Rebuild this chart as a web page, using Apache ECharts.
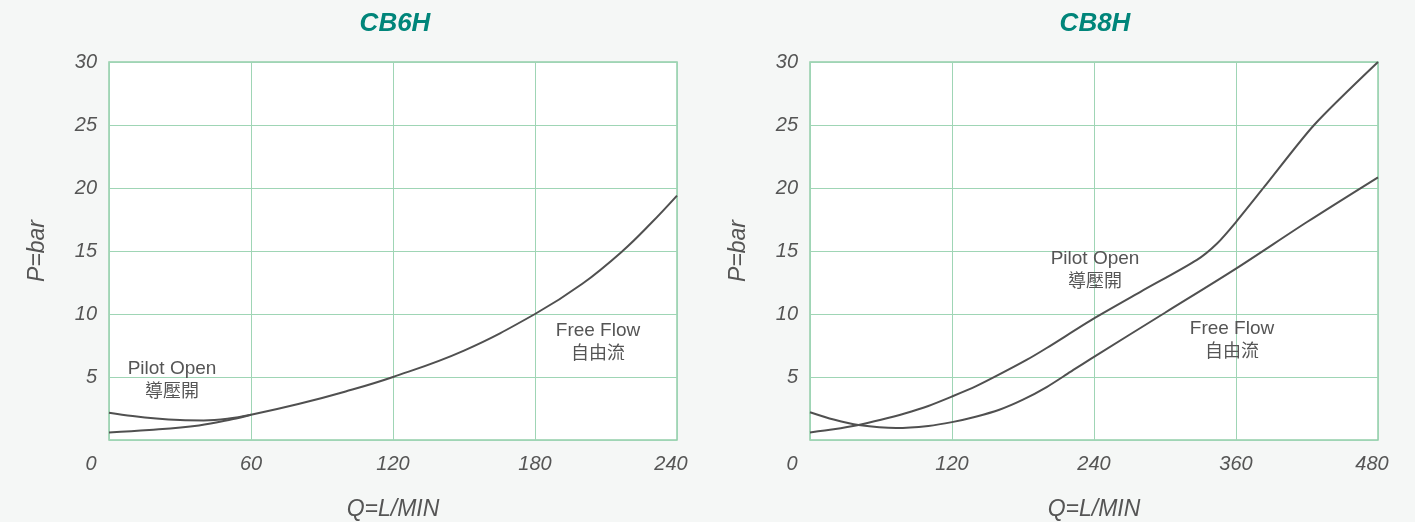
<!DOCTYPE html>
<html>
<head>
<meta charset="utf-8">
<script src="https://cdn.jsdelivr.net/npm/echarts@6/dist/echarts.min.js"></script>
<style>
html,body{margin:0;padding:0;background:#f5f7f6;}
#c{width:1415px;height:522px;}
</style>
</head>
<body>
<div id="c"></div>
<script>
// ---- data ----
const titles = ['CB6H', 'CB8H'];
const xTicksLeft = [0, 60, 120, 180, 240];
const xTicksRight = [0, 120, 240, 360, 480];
const yTicks = [0, 5, 10, 15, 20, 25, 30];

// CB6H: Q (L/min) vs P (bar)
const cb6hPilotQ = [0, 10, 20, 30, 40, 50, 60, 80, 100, 120, 150, 180, 200, 217, 229, 240];
const cb6hPilotP = [2.17, 1.9, 1.7, 1.58, 1.55, 1.68, 2.0, 2.85, 3.85, 5.0, 7.1, 10.0, 12.4, 15.0, 17.2, 19.4];
const cb6hFreeQ = [0, 17, 38, 52, 60];
const cb6hFreeP = [0.6, 0.79, 1.16, 1.64, 2.0];

// CB8H
const cb8hAQ = [0, 20, 41, 73, 100, 120, 140, 160, 180, 200, 220, 240, 300, 360, 420, 480];
const cb8hAP = [2.2, 1.62, 1.19, 0.95, 1.12, 1.42, 1.85, 2.4, 3.2, 4.2, 5.4, 6.6, 10.1, 13.6, 17.3, 20.85];
const cb8hBQ = [0, 20, 41, 60, 80, 100, 120, 140, 160, 183, 200, 240, 280, 327, 344, 360, 384, 426, 480];
const cb8hBP = [0.6, 0.85, 1.19, 1.6, 2.1, 2.7, 3.45, 4.25, 5.2, 6.35, 7.3, 9.65, 11.8, 14.3, 15.6, 17.3, 20.1, 25.0, 30.0];

const labelPilot = ['Pilot Open', '導壓開'];
const labelFree = ['Free Flow', '自由流'];

const pairs = (xs, ys) => xs.map((x, i) => [x, ys[i]]);

const GRID_C = '#9fd5b5';
const BORDER_C = '#93cea9';
const TXT_C = '#555';
const TEAL = '#00857a';
const LBL = {fontFamily: 'Liberation Sans', fontStyle: 'italic', fontSize: 20, color: TXT_C};

function xAxis(idx, ticks) {
  const max = ticks[ticks.length - 1];
  return {
    type: 'value', gridIndex: idx, min: ticks[0], max: max, interval: ticks[1] - ticks[0],
    name: 'Q=L/MIN', nameLocation: 'middle', nameGap: 58,
    nameTextStyle: {fontFamily: 'Liberation Sans', fontStyle: 'italic', fontSize: 23, color: TXT_C},
    axisLine: {show: false}, axisTick: {show: false},
    splitLine: {show: true, lineStyle: {color: GRID_C, width: 1}},
    axisLabel: Object.assign({
      margin: 14,
      formatter: v => v === 0 ? '{o|0}' : (v === max ? '{m|' + v + '}' : String(v)),
      rich: {
        o: Object.assign({padding: [0, 36, 0, 0]}, LBL),
        m: Object.assign({padding: [0, 12, 0, 0]}, LBL)
      }
    }, LBL)
  };
}
function yAxis(idx) {
  return {
    type: 'value', gridIndex: idx, min: yTicks[0], max: yTicks[yTicks.length - 1], interval: yTicks[1] - yTicks[0],
    name: 'P=bar', nameLocation: 'middle', nameGap: 60, nameRotate: 90,
    nameTextStyle: {fontFamily: 'Liberation Sans', fontStyle: 'italic', fontSize: 23, color: TXT_C},
    axisLine: {show: false}, axisTick: {show: false},
    splitLine: {show: true, lineStyle: {color: GRID_C, width: 1}},
    axisLabel: Object.assign({showMinLabel: false, margin: 12}, LBL)
  };
}
function line(name, data, xi, sm) {
  return {
    type: 'line', name: name, xAxisIndex: xi, yAxisIndex: xi, data: data, smooth: sm,
    showSymbol: false, symbol: 'none', lineStyle: {color: '#505050', width: 2}, silent: true, z: 5
  };
}
function annot(x, y, lines) {
  return [
    {type: 'text', x: x, y: y, z: 10, style: {text: lines[0], fill: TXT_C, font: '19px "Liberation Sans"', textAlign: 'center', textVerticalAlign: 'middle'}},
    {type: 'text', x: x, y: y + 21, z: 10, style: {text: lines[1], fill: TXT_C, font: '18px "Noto Sans CJK TC"', textAlign: 'center', textVerticalAlign: 'middle'}}
  ];
}

const chart = echarts.init(document.getElementById('c'));
const titleStyle = {fontFamily: 'Liberation Sans', fontStyle: 'italic', fontWeight: 'bold', fontSize: 26, color: TEAL};
chart.setOption({
  backgroundColor: '#f5f7f6',
  animation: false,
  title: [
    {text: titles[0], left: 390, top: 6, textAlign: 'center', textStyle: titleStyle},
    {text: titles[1], left: 1090, top: 6, textAlign: 'center', textStyle: titleStyle}
  ],
  grid: [
    {left: 109, right: 738, top: 62, bottom: 82, containLabel: false, outerBoundsMode: 'none', show: true, backgroundColor: '#fff', borderColor: BORDER_C, borderWidth: 1.5},
    {left: 810, right: 37, top: 62, bottom: 82, containLabel: false, outerBoundsMode: 'none', show: true, backgroundColor: '#fff', borderColor: BORDER_C, borderWidth: 1.5}
  ],
  xAxis: [xAxis(0, xTicksLeft), xAxis(1, xTicksRight)],
  yAxis: [yAxis(0), yAxis(1)],
  series: [
    line('Pilot Open', pairs(cb6hPilotQ, cb6hPilotP), 0, 0.4),
    line('Free Flow', pairs(cb6hFreeQ, cb6hFreeP), 0, 0.4),
    line('Free Flow', pairs(cb8hAQ, cb8hAP), 1, 0.3),
    line('Pilot Open', pairs(cb8hBQ, cb8hBP), 1, 0.25)
  ],
  graphic: [].concat(
    annot(172, 369, labelPilot),
    annot(598, 331, labelFree),
    annot(1095, 259, labelPilot),
    annot(1232, 329, labelFree)
  )
});
</script>
</body>
</html>
